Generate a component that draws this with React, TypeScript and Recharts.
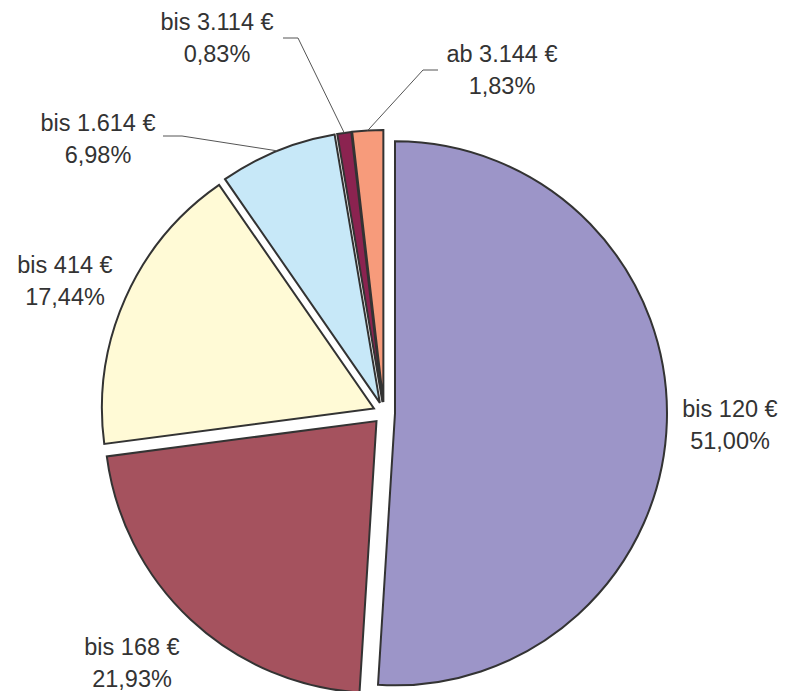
import React from 'react';
import { PieChart, Pie, Cell } from 'recharts';

// Anteile je Einkommensklasse (im Uhrzeigersinn ab 12 Uhr)
const categories = ['bis 120 €', 'bis 168 €', 'bis 414 €', 'bis 1.614 €', 'bis 3.114 €', 'ab 3.144 €'];
const shares = [51.0, 21.93, 17.44, 6.98, 0.83, 1.83];
const shareLabels = ['51,00%', '21,93%', '17,44%', '6,98%', '0,83%', '1,83%'];
const colors = ['#9C95C8', '#A5525E', '#FFFAD6', '#C7E8F8', '#8B2350', '#F79B7B'];

const rows = categories.map((name, i) => ({ name, value: shares[i] }));

// Layout
const CX = 384;
const CY = 413;
const R = 272;
const EXPLODE = 11;
const RAD = Math.PI / 180;
const LINE_GAP = 32;

// Beschriftung: Mitte x / Grundlinie der ersten Zeile, optional Führungslinie (Knick + Ende)
const labelLayout = [
  { x: 730, y: 417 },
  { x: 132, y: 655 },
  { x: 65, y: 273 },
  { x: 98, y: 131, elbow: [182, 136], end: [163, 136] },
  { x: 217, y: 30, elbow: [298, 38], end: [283, 38] },
  { x: 502, y: 62, elbow: [423, 70], end: [438, 70] },
];

const total = shares.reduce((a, b) => a + b, 0);
const midAngles: number[] = [];
let acc = 0;
shares.forEach((v) => {
  midAngles.push(90 - ((acc + v / 2) / total) * 360);
  acc += v;
});

export default function App() {
  return (
    <div style={{ position: 'absolute', left: 0, top: 0, fontFamily: '"Liberation Sans", Arial, sans-serif' }}>
      <PieChart width={786} height={691} margin={{ top: 0, right: 0, bottom: 0, left: 0 }}>
        {rows.map((_, i) => {
          const dx = EXPLODE * Math.cos(midAngles[i] * RAD);
          const dy = -EXPLODE * Math.sin(midAngles[i] * RAD);
          const renderLabel = (props: any) => {
            if (props.index !== i) return null;
            const lay = labelLayout[i];
            const a = -props.midAngle * RAD;
            const px = props.cx + props.outerRadius * Math.cos(a);
            const py = props.cy + props.outerRadius * Math.sin(a);
            return (
              <g key={`lbl-${i}`}>
                {lay.elbow && (
                  <polyline
                    points={`${px},${py} ${lay.elbow[0]},${lay.elbow[1]} ${lay.end![0]},${lay.end![1]}`}
                    fill="none"
                    stroke="#555"
                    strokeWidth={1}
                  />
                )}
                <text x={lay.x} y={lay.y} textAnchor="middle" fill="#333" fontSize={23.5}>
                  <tspan x={lay.x} y={lay.y}>{categories[i]}</tspan>
                  <tspan x={lay.x} y={lay.y + LINE_GAP}>{shareLabels[i]}</tspan>
                </text>
              </g>
            );
          };
          return (
            <Pie
              key={`pie-${i}`}
              data={rows}
              dataKey="value"
              nameKey="name"
              cx={CX + dx}
              cy={CY + dy}
              innerRadius={0}
              outerRadius={R}
              startAngle={90}
              endAngle={-270}
              paddingAngle={0}
              isAnimationActive={false}
              label={renderLabel}
              labelLine={false}
            >
              {rows.map((_, j) => (
                <Cell
                  key={`cell-${j}`}
                  fill={j === i ? colors[j] : 'none'}
                  stroke={j === i ? '#333' : 'none'}
                  strokeWidth={2}
                />
              ))}
            </Pie>
          );
        })}
      </PieChart>
    </div>
  );
}
